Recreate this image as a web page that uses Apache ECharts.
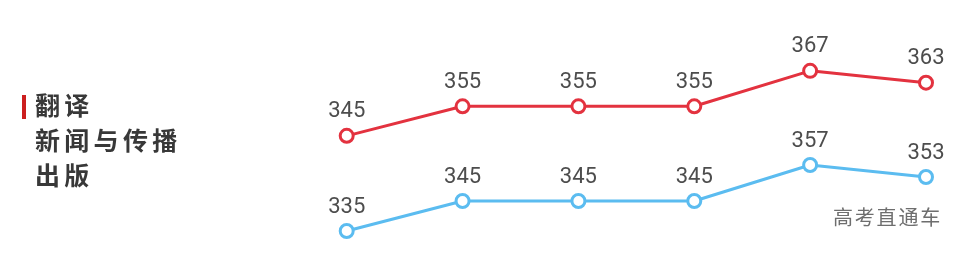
<!DOCTYPE html>
<html><head><meta charset="utf-8">
<script src="https://cdn.jsdelivr.net/npm/echarts@6/dist/echarts.min.js"></script>
<style>html,body{margin:0;padding:0;background:#fff}#c{width:970px;height:259px}</style>
</head><body><div id="c"></div>
<script>
var categories = ['2019', '2020', '2021', '2022', '2023', '2024'];
var redValues = [345, 355, 355, 355, 367, 363];
var blueValues = [335, 345, 345, 345, 357, 353];
var legendLines = ['翻译', '新闻与传播', '出版'];
var watermark = '高考直通车';

var chart = echarts.init(document.getElementById('c'));
var graphics = [{type:'rect', left:22, top:95, shape:{width:4, height:24}, style:{fill:'#cc1f1f'}}];
var lineTops = [92.5, 127.5, 162.5];
legendLines.forEach(function(s, li){
  for (var i = 0; i < s.length; i++) {
    graphics.push({type:'text', left:35 + i*29.3, top:lineTops[li],
      style:{text:s[i], font:'bold 25px "Noto Sans CJK SC"', fill:'#383838'}});
  }
});
for (var i = 0; i < watermark.length; i++) {
  graphics.push({type:'text', left:833 + i*21.8, top:207,
    style:{text:watermark[i], font:'20px "Noto Sans CJK SC"', fill:'#6e6e6e'}});
}
var lbl = {show:true, position:'top', distance:5, color:'#4d4d4d', fontSize:22, fontFamily:'Roboto'};
chart.setOption({
  animation:false,
  grid:[{left:346.7, right:44, top:62, height:88.6},{left:346.7, right:44, top:156, height:90}],
  xAxis:[{type:'category', gridIndex:0, data:categories, boundaryGap:false, show:false},
         {type:'category', gridIndex:1, data:categories, boundaryGap:false, show:false}],
  yAxis:[{type:'value', gridIndex:0, min:340, max:370, show:false},
         {type:'value', gridIndex:1, min:330, max:360, show:false}],
  graphic: graphics,
  series:[
    {type:'line', xAxisIndex:0, yAxisIndex:0, data:redValues, symbol:'circle', symbolSize:13,
     lineStyle:{color:'#e3323f', width:3}, itemStyle:{color:'#fff', borderColor:'#e3323f', borderWidth:3}, label:lbl},
    {type:'line', xAxisIndex:1, yAxisIndex:1, data:blueValues, symbol:'circle', symbolSize:13,
     lineStyle:{color:'#5bbcf0', width:3}, itemStyle:{color:'#fff', borderColor:'#5bbcf0', borderWidth:3}, label:lbl}
  ]
});
</script></body></html>
